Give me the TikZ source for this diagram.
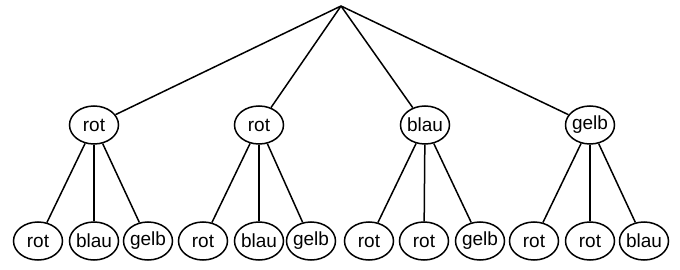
\documentclass[tikz,border=0pt]{standalone}
\usepackage{fontspec}
\setmainfont{Liberation Sans}
\usetikzlibrary{shapes.geometric}

\begin{document}
\begin{tikzpicture}[
  x=1pt, y=-1pt,
  every node/.style={font=\fontsize{19}{22}\selectfont},
  valnode/.style={ellipse, draw, line width=1.5pt, inner xsep=-3pt, inner ysep=0pt, minimum width=49pt, minimum height=38pt},
  edge/.style={line width=1.5pt},
]
\useasboundingbox (0,0) rectangle (680,270);
\coordinate (root) at (341,6);
% first level
\node[valnode] (a1) at (94,125) {rot};
\node[valnode] (a2) at (259,125) {rot};
\node[valnode] (a3) at (425,125) {blau};
\node[valnode] (a4) at (590,125) {gelb};
% second level
\node[valnode] (b11) at (38,241) {rot};
\node[valnode] (b12) at (94,241) {blau};
\node[valnode] (b13) at (148,241) {gelb};
\node[valnode] (b21) at (203,241) {rot};
\node[valnode] (b22) at (259,241) {blau};
\node[valnode] (b23) at (311,241) {gelb};
\node[valnode] (b31) at (369,241) {rot};
\node[valnode] (b32) at (424,241) {rot};
\node[valnode] (b33) at (480,241) {gelb};
\node[valnode] (b41) at (534,241) {rot};
\node[valnode] (b42) at (590,241) {rot};
\node[valnode] (b43) at (644,241) {blau};

\foreach \i in {1,...,4} {
  \draw[edge] (root) -- (a\i);
  \foreach \j in {1,2,3}
    \draw[edge] (a\i) -- (b\i\j);
}
\end{tikzpicture}
\end{document}
